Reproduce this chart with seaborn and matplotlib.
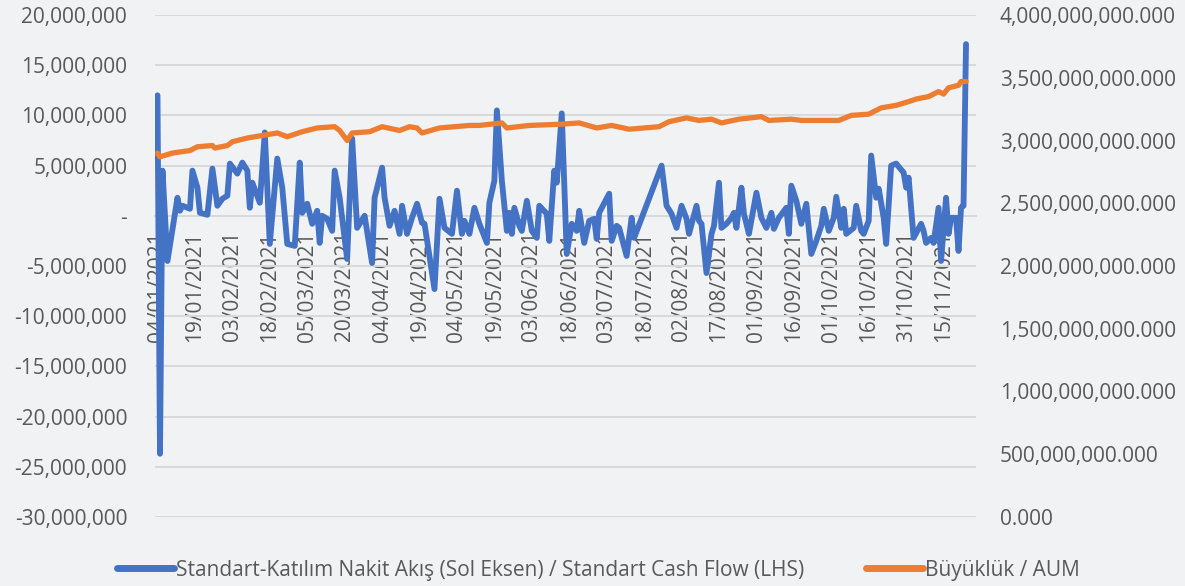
import numpy as np
import pandas as pd
import matplotlib
matplotlib.use("Agg")
import matplotlib.pyplot as plt
import matplotlib.ticker as mticker
from matplotlib.lines import Line2D
import seaborn as sns

start = pd.Timestamp("2021-01-04")

# cash flow series: day offset from 04/01/2021, value in millions
flow_days = [0, 1, 2, 4, 8, 9, 10, 13, 14, 16, 17, 20, 22, 24, 26, 28, 29, 32, 34, 36,
             37, 38, 41, 43, 45, 48, 50, 52, 55, 57, 58, 60, 61, 62, 64, 65, 66, 68, 70, 71,
             73, 76, 78, 80, 83, 86, 87, 90, 91, 93, 95, 97, 98, 100, 102, 104, 106, 107, 111, 113,
             115, 118, 120, 122, 123, 125, 127, 129, 132, 133, 135, 136, 138, 140, 141, 142, 143, 145, 146, 148,
             150, 152, 153, 156, 157, 159, 160, 162, 163, 164, 166, 168, 169, 171, 173, 175, 176, 177, 181, 182,
             184, 185, 188, 190, 191, 202, 204, 206, 208, 210, 212, 213, 216, 217, 218, 220, 222, 223, 225, 226,
             228, 230, 231, 232, 234, 235, 237, 240, 242, 244, 246, 247, 249, 252, 253, 254, 256, 258, 260, 262,
             264, 266, 267, 269, 271, 272, 274, 275, 276, 279, 280, 282, 283, 285, 286, 288, 289, 291, 292, 294,
             296, 299, 300, 301, 303, 306, 307, 308, 310, 311, 313, 314, 316, 317, 318, 320, 321, 322, 323, 324]
flow_m = [12.0, -23.7, 4.5, -4.5, 1.8, 0.5, 1.0, 0.7, 4.5, 2.8, 0.3, 0.1, 4.7, 1.0, 1.7, 2.0, 5.2, 4.2, 5.3, 4.5,
          0.8, 3.3, 1.3, 8.3, -2.8, 5.7, 2.8, -2.8, -3.0, 5.3, 0.3, 1.2, 0.2, -0.8, 0.5, -2.7, 0.0, -0.3, -1.5, 4.5,
          1.8, -4.3, 7.7, -1.2, 0.0, -4.7, 1.8, 4.8, 1.8, -1.0, 0.5, -1.8, 1.0, -1.8, -0.2, 1.2, -0.7, -0.8, -7.3, 1.7,
          -1.2, -1.8, 2.5, -1.8, -0.5, -1.8, 0.8, -0.8, -2.7, 1.3, 3.5, 10.5, 3.5, -1.5, 0.3, -1.8, 0.8, -1.0, -1.5, 1.5,
          -1.5, -2.2, 1.0, 0.2, -2.5, 4.5, 3.3, 10.2, 3.2, -3.8, -0.8, -1.5, 0.5, -2.7, -0.5, -0.3, -2.3, 0.3, 2.2, -2.5,
          -1.0, -1.2, -4.0, -0.2, -2.2, 5.0, 1.0, 0.2, -1.2, 1.0, -0.3, -1.8, 1.0, -0.5, -0.8, -5.7, -1.8, -1.0, 3.3, -1.2,
          -0.8, -0.2, 0.3, -1.2, 2.8, 0.2, -1.8, 2.3, -0.2, -1.2, 0.3, -1.3, -0.2, 0.8, -1.8, 3.0, 1.5, -0.8, 1.2, -3.8,
          -2.5, -1.0, 0.7, -1.5, -0.2, 1.9, -1.2, 0.7, -1.8, -1.2, 1.0, -1.5, -1.8, -0.5, 6.0, 1.8, 2.7, -0.2, -2.8, 5.0,
          5.2, 4.3, 2.8, 3.8, -2.2, -0.8, -1.5, -2.7, -2.2, -2.7, 0.8, -4.5, 1.8, -1.8, -0.2, -0.2, -3.5, 0.8, 1.0, 17.1]

# fund size series: day offset, value in billions
aum_days = [0, 1, 6, 13, 16, 22, 23, 28, 30, 36, 42, 48, 52, 58, 64, 71, 73, 76, 78, 85,
            90, 97, 101, 104, 106, 113, 125, 129, 138, 140, 149, 162, 169, 176, 182, 189, 201, 205, 212, 217,
            222, 226, 233, 242, 245, 254, 258, 265, 273, 278, 285, 290, 296, 301, 304, 309, 313, 315, 317, 321,
            322, 324]
aum_bn = [2.90, 2.87, 2.90, 2.92, 2.95, 2.96, 2.94, 2.96, 2.99, 3.02, 3.04, 3.06, 3.03, 3.07, 3.10, 3.11, 3.08, 3.00, 3.06, 3.07,
          3.11, 3.08, 3.11, 3.10, 3.06, 3.10, 3.12, 3.12, 3.14, 3.10, 3.12, 3.13, 3.14, 3.10, 3.12, 3.09, 3.11, 3.15, 3.18, 3.16,
          3.17, 3.14, 3.17, 3.19, 3.16, 3.17, 3.16, 3.16, 3.16, 3.20, 3.21, 3.26, 3.28, 3.31, 3.33, 3.35, 3.39, 3.37, 3.42, 3.44,
          3.47, 3.47]

tick_labels = ["04/01/2021", "19/01/2021", "03/02/2021", "18/02/2021", "05/03/2021", "20/03/2021",
               "04/04/2021", "19/04/2021", "04/05/2021", "19/05/2021", "03/06/2021", "18/06/2021",
               "03/07/2021", "18/07/2021", "02/08/2021", "17/08/2021", "01/09/2021", "16/09/2021",
               "01/10/2021", "16/10/2021", "31/10/2021", "15/11/2021"]

flow_label = "Standart-Katılım Nakit Akış (Sol Eksen) / Standart Cash Flow (LHS)"
aum_label = "Büyüklük / AUM"

flow = pd.DataFrame({"date": start + pd.to_timedelta(flow_days, unit="D"),
                     "value": np.array(flow_m) * 1e6})
aum = pd.DataFrame({"date": start + pd.to_timedelta(aum_days, unit="D"),
                    "value": np.array(aum_bn) * 1e9})
tick_dates = pd.to_datetime(tick_labels, format="%d/%m/%Y")

blue = "#4472C4"
orange = "#ED7D31"
text_c = "#595959"
grid_c = "#d9d9d9"

sns.set_style("white")
plt.rcParams["font.family"] = ["Open Sans", "DejaVu Sans"]

fig = plt.figure(figsize=(11.85, 5.86), dpi=100, facecolor="#f1f2f4")
ax = fig.add_axes([155 / 1185, 69 / 586, 821 / 1185, 502 / 586])
ax.set_facecolor("none")
ax2 = ax.twinx()

sns.lineplot(data=flow, x="date", y="value", ax=ax, color=blue, linewidth=4.2,
             estimator=None, sort=False, zorder=3, solid_joinstyle="round")
sns.lineplot(data=aum, x="date", y="value", ax=ax2, color=orange, linewidth=3.8,
             estimator=None, sort=False, solid_joinstyle="round")

ax.set_xlim(start - pd.Timedelta(days=1), start + pd.Timedelta(days=328))
ax.set_ylim(-30e6, 20e6)
ax.set_yticks(np.arange(-30e6, 20.1e6, 5e6))
ax2.set_ylim(0, 4e9)
ax2.set_yticks(np.arange(0, 4.01e9, 0.5e9))

ax.yaxis.set_major_formatter(mticker.FuncFormatter(lambda v, p: "-" if v == 0 else f"{v:,.0f}"))
ax2.yaxis.set_major_formatter(mticker.FuncFormatter(lambda v, p: f"{v:,.3f}"))

ax.set_xticks(tick_dates)
ax.set_xticklabels(tick_labels)

ax.yaxis.grid(True, color=grid_c, linewidth=1.4)
ax.set_axisbelow(True)
ax2.grid(False)

for s in ["top", "left", "right"]:
    ax.spines[s].set_visible(False)
for s in ax2.spines.values():
    s.set_visible(False)
ax.spines["bottom"].set_position(("data", 0))
ax.spines["bottom"].set_color(grid_c)
ax.spines["bottom"].set_linewidth(1.4)

ax.tick_params(axis="x", direction="out", length=4, width=1.2, color=grid_c, pad=7,
               labelsize=15, labelcolor=text_c, labelrotation=90)
ax.tick_params(axis="y", length=0, pad=20, labelsize=15, labelcolor=text_c)
ax2.tick_params(axis="y", length=0, pad=17, labelsize=15, labelcolor=text_c)

for a in (ax, ax2):
    a.set_xlabel("")
    a.set_ylabel("")

handles = [Line2D([0], [0], color=blue, lw=5, solid_capstyle="round"),
           Line2D([0], [0], color=orange, lw=5, solid_capstyle="round")]
leg = fig.legend(handles, [flow_label, aum_label], loc="center",
                 bbox_to_anchor=(0.505, 0.027), ncol=2, frameon=False, fontsize=15,
                 handlelength=2.7, handletextpad=0.1, columnspacing=3.0)
for t in leg.get_texts():
    t.set_color(text_c)

fig.savefig("out.png", dpi=100, facecolor=fig.get_facecolor())
